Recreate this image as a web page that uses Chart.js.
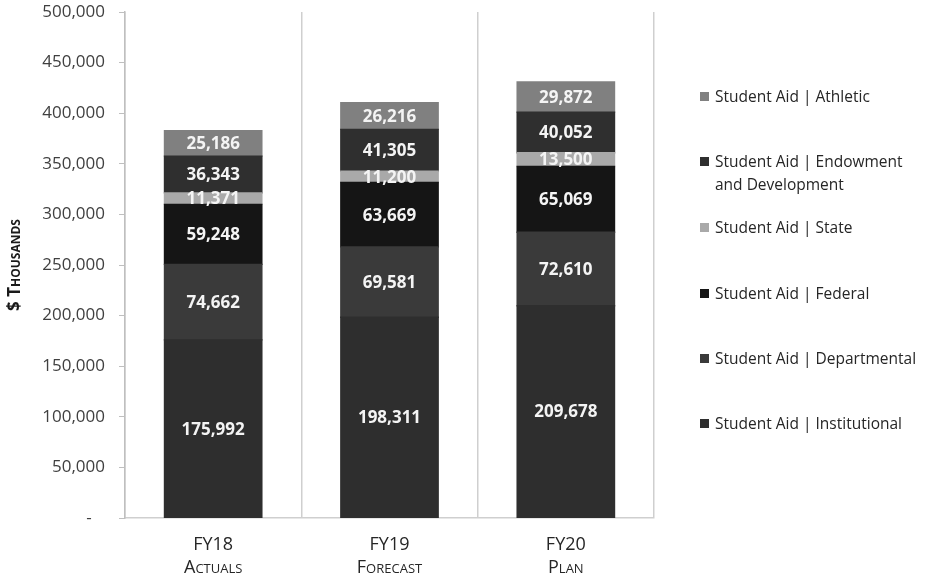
<!DOCTYPE html>
<html>
<head>
<meta charset="utf-8">
<script src="https://cdn.jsdelivr.net/npm/chart.js@4.4.1/dist/chart.umd.min.js"></script>
<style>
  html, body { margin: 0; padding: 0; background: #fff; }
  #wrap { position: relative; width: 926px; height: 578px; }
  #legend { position: absolute; left: 700px; top: 0; font-family: 'Open Sans', sans-serif; font-size: 15.5px; color: #262626; }
  .item { position: absolute; left: 0; white-space: nowrap; line-height: 23px; }
  .box { position: absolute; left: 0; top: 7px; width: 9px; height: 9px; }
  .txt { position: absolute; left: 15px; top: 0; }
</style>
</head>
<body>
<div id="wrap">
  <canvas id="chart" width="926" height="578"></canvas>
  <div id="legend"></div>
</div>
<script>
// categories and series (bottom segment first)
var categories = [['FY18', 'Actuals'], ['FY19', 'Forecast'], ['FY20', 'Plan']];
var institutional = [175992, 198311, 209678];
var departmental = [74662, 69581, 72610];
var federal = [59248, 63669, 65069];
var state = [11371, 11200, 13500];
var endowment = [36343, 41305, 40052];
var athletic = [25186, 26216, 29872];

var seriesNames = [
  'Student Aid | Institutional',
  'Student Aid | Departmental',
  'Student Aid | Federal',
  'Student Aid | State',
  'Student Aid | Endowment and Development',
  'Student Aid | Athletic'
];
var seriesColors = ['#2e2e2e', '#3a3a3a', '#151515', '#a9a9a9', '#2f2f2f', '#808080'];
var seriesValues = [institutional, departmental, federal, state, endowment, athletic];

var yMax = 500000;
var yStep = 50000;

Chart.defaults.font.family = "'Open Sans', sans-serif";
Chart.defaults.color = '#404040';

var datasets = seriesValues.map(function (vals, i) {
  return {
    label: seriesNames[i],
    data: vals,
    backgroundColor: seriesColors[i],
    borderWidth: 0,
    inflateAmount: 0.7,
    barPercentage: 1,
    categoryPercentage: 0.552
  };
});

// white value labels in the middle of each segment
var segmentLabels = {
  id: 'segmentLabels',
  afterDatasetsDraw: function (chart) {
    var ctx = chart.ctx;
    ctx.save();
    ctx.font = "bold 17px 'Open Sans', sans-serif";
    ctx.fillStyle = '#f4f4f4';
    ctx.textAlign = 'center';
    ctx.textBaseline = 'middle';
    chart.data.datasets.forEach(function (ds, i) {
      chart.getDatasetMeta(i).data.forEach(function (bar, j) {
        var y = (bar.y + bar.base) / 2;
        ctx.fillText(ds.data[j].toLocaleString('en-US'), bar.x, y + 1);
      });
    });
    ctx.restore();
  }
};

new Chart(document.getElementById('chart'), {
  type: 'bar',
  data: { labels: categories, datasets: datasets },
  plugins: [segmentLabels],
  options: {
    responsive: false,
    animation: false,
    layout: { padding: { top: 12, right: 272, left: 0, bottom: 0 } },
    plugins: {
      legend: { display: false },
      tooltip: { enabled: false }
    },
    scales: {
      x: {
        stacked: true,
        offset: true,
        afterFit: function (scale) { scale.height = 60; },
        grid: { offset: true, color: '#cfcfcf', lineWidth: 1.5, drawTicks: false },
        border: { color: '#cfcfcf', width: 1.5 },
        ticks: {
          padding: 16,
          color: '#262626',
          font: { size: 18, weight: 'small-caps', lineHeight: 1.25 }
        }
      },
      y: {
        stacked: true,
        min: 0,
        max: yMax,
        afterFit: function (scale) {
          scale.width = 125;
          scale.paddingTop = 0;
          scale.paddingBottom = 0;
        },
        grid: { drawOnChartArea: false, drawTicks: true, tickLength: 6, color: '#bfbfbf' },
        border: { color: '#bfbfbf', width: 1.5 },
        title: {
          display: true,
          text: '$ Thousands',
          color: '#1a1a1a',
          padding: { top: 5, bottom: 0 },
          font: { size: 17, weight: 'small-caps bold' }
        },
        ticks: {
          stepSize: yStep,
          padding: 14,
          color: '#404040',
          font: { size: 17 },
          callback: function (v) { return v === 0 ? '-   ' : v.toLocaleString('en-US'); }
        }
      }
    }
  }
});

// legend on the right, top entry = last dataset
var legendLines = {
  'Student Aid | Endowment and Development': ['Student Aid | Endowment', 'and Development']
};
var legendTops = [412, 347, 282, 216, 150, 85];
var legend = document.getElementById('legend');
seriesNames.forEach(function (name, i) {
  var item = document.createElement('div');
  item.className = 'item';
  item.style.top = legendTops[i] + 'px';
  var box = document.createElement('div');
  box.className = 'box';
  box.style.background = seriesColors[i];
  var txt = document.createElement('div');
  txt.className = 'txt';
  txt.innerHTML = (legendLines[name] || [name]).join('<br>');
  item.appendChild(box);
  item.appendChild(txt);
  legend.appendChild(item);
});
</script>
</body>
</html>
